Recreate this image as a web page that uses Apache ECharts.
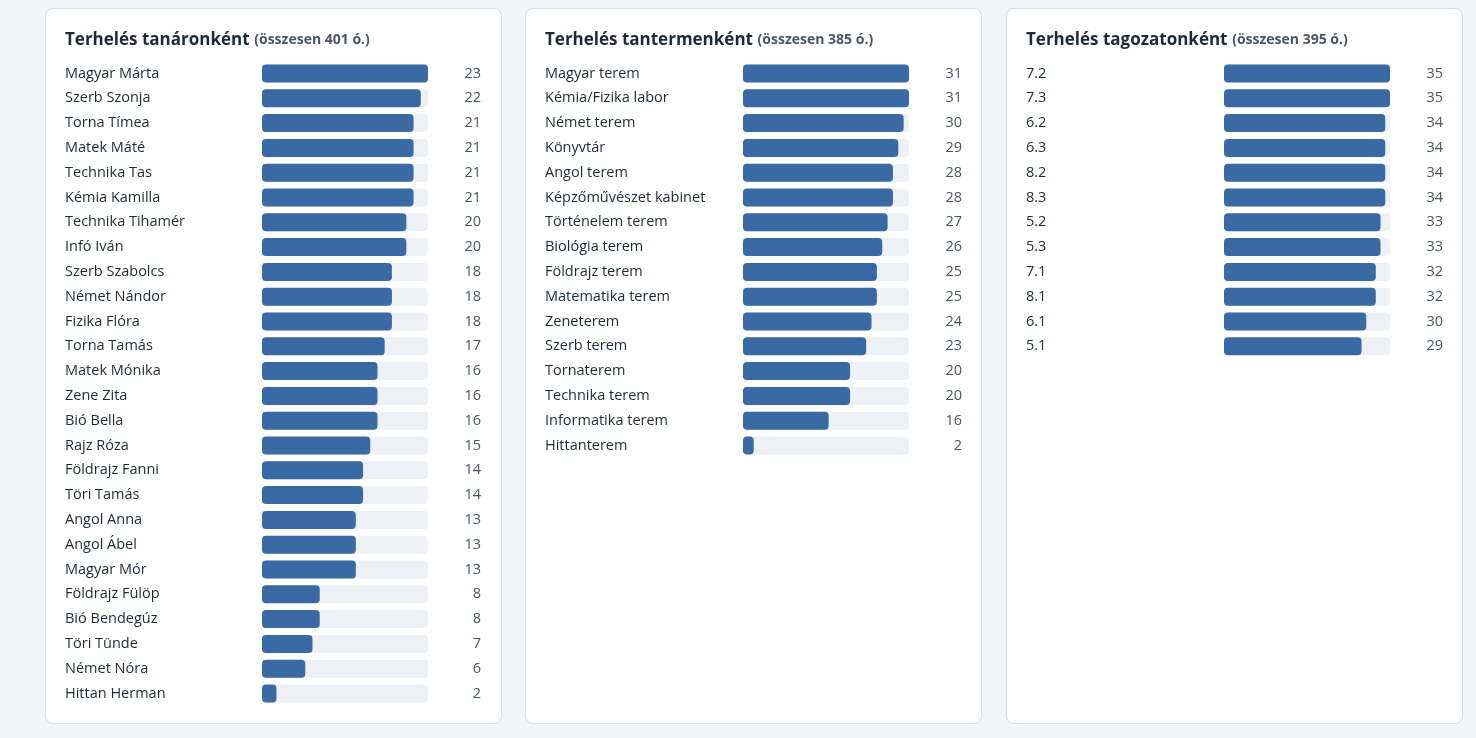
<!DOCTYPE html>
<html><head><meta charset="utf-8">
<script src="https://cdn.jsdelivr.net/npm/echarts@6/dist/echarts.min.js"></script>
<style>
html,body{margin:0;padding:0;background:#f3f4f6;width:1476px;height:738px;overflow:hidden;}
.card{position:absolute;top:8px;width:457px;height:716px;background:#fff;border:1px solid #d8dce2;border-radius:8px;box-sizing:border-box;}
.chart{position:absolute;left:0;top:0;width:455px;height:714px;}
</style></head>
<body>
<div class="card" style="left:45px"><div id="c1" class="chart"></div></div>
<div class="card" style="left:525px"><div id="c2" class="chart"></div></div>
<div class="card" style="left:1006px"><div id="c3" class="chart"></div></div>
<script>
const teacherNames = ["Magyar Márta","Szerb Szonja","Torna Tímea","Matek Máté","Technika Tas","Kémia Kamilla","Technika Tihamér","Infó Iván","Szerb Szabolcs","Német Nándor","Fizika Flóra","Torna Tamás","Matek Mónika","Zene Zita","Bió Bella","Rajz Róza","Földrajz Fanni","Töri Tamás","Angol Anna","Angol Ábel","Magyar Mór","Földrajz Fülöp","Bió Bendegúz","Töri Tünde","Német Nóra","Hittan Herman"];
const teacherHours = [23,22,21,21,21,21,20,20,18,18,18,17,16,16,16,15,14,14,13,13,13,8,8,7,6,2];
const roomNames = ["Magyar terem","Kémia/Fizika labor","Német terem","Könyvtár","Angol terem","Képzőművészet kabinet","Történelem terem","Biológia terem","Földrajz terem","Matematika terem","Zeneterem","Szerb terem","Tornaterem","Technika terem","Informatika terem","Hittanterem"];
const roomHours = [31,31,30,29,28,28,27,26,25,25,24,23,20,20,16,2];
const classNames = ["7.2","7.3","6.2","6.3","8.2","8.3","5.2","5.3","7.1","8.1","6.1","5.1"];
const classHours = [35,35,34,34,34,34,33,33,32,32,30,29];

const FONT = "'Open Sans', 'Noto Sans', sans-serif";
function build(id, title, names, values, barLeft){
  const total = values.reduce((a,b)=>a+b,0);
  const rowH = 24.8;
  const top = 52.1;
  const chart = echarts.init(document.getElementById(id), null, {renderer:'canvas'});
  chart.setOption({
    animation:false,
    textStyle:{fontFamily:FONT},
    title:{
      left:19, top:22, padding:0,
      text:'{a|'+title+'} {b|(összesen '+total+' ó.)}',
      textStyle:{rich:{
        a:{fontFamily:FONT,fontSize:17,fontWeight:'bold',color:'#1e293b'},
        b:{fontFamily:FONT,fontSize:14,fontWeight:'bold',color:'#4b5563'}
      }}
    },
    grid:{left:barLeft, width:166, top:top, height:rowH*names.length},
    xAxis:{type:'value', min:0, max:Math.max(...values), show:false},
    yAxis:[{
      type:'category', data:names, inverse:true,
      axisLine:{show:false}, axisTick:{show:false},
      axisLabel:{align:'left', margin:barLeft-19, fontSize:14.5, color:'#1f2937', fontFamily:FONT}
    },{
      type:'category', data:values, inverse:true, position:'right',
      axisLine:{show:false}, axisTick:{show:false},
      axisLabel:{align:'right', margin:53, fontSize:14.5, color:'#4b5563', fontFamily:FONT}
    }],
    series:[{
      type:'bar', data:values, barWidth:18,
      itemStyle:{color:'#3a6aa3', borderRadius:4},
      showBackground:true,
      backgroundStyle:{color:'#edf0f5', borderRadius:4}
    }]
  });
}
build('c1','Terhelés tanáronként',teacherNames,teacherHours,216);
build('c2','Terhelés tantermenként',roomNames,roomHours,217);
build('c3','Terhelés tagozatonként',classNames,classHours,217);
</script>
</body></html>
